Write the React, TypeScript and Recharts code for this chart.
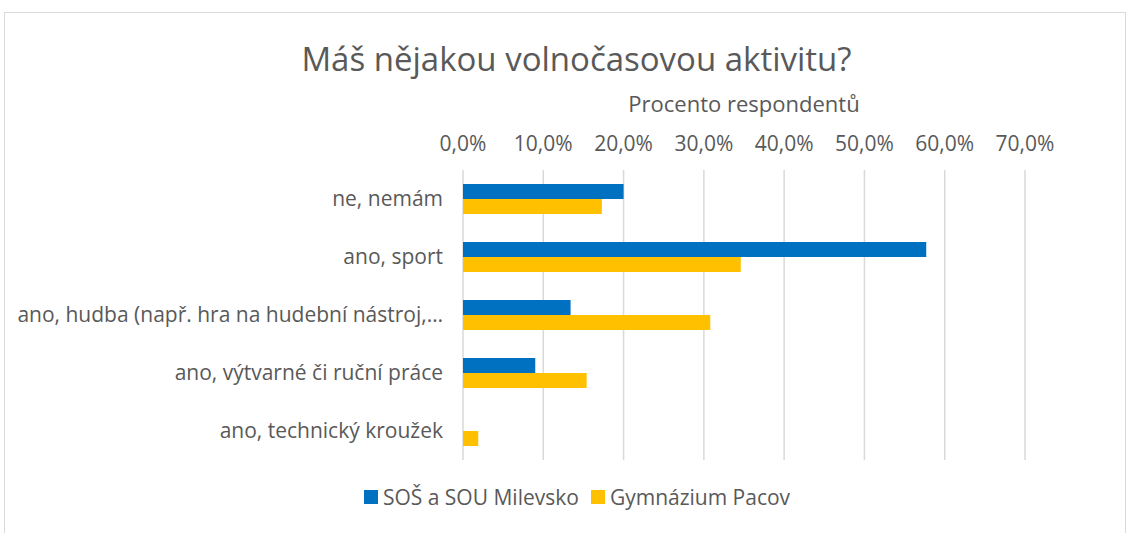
import { Bar, BarChart, CartesianGrid, XAxis, YAxis } from "recharts";

const categories = [
  "ne, nemám",
  "ano, sport",
  "ano, hudba (např. hra na hudební nástroj,…",
  "ano, výtvarné či ruční práce",
  "ano, technický kroužek",
];
const milevsko = [0.2, 0.577, 0.134, 0.09, 0];
const pacov = [0.173, 0.346, 0.308, 0.154, 0.019];
const xTicks = [0, 0.1, 0.2, 0.3, 0.4, 0.5, 0.6, 0.7];

const SERIES = [
  { key: "milevsko", name: "SOŠ a SOU Milevsko", color: "#0070C0" },
  { key: "pacov", name: "Gymnázium Pacov", color: "#FFC000" },
];

const FONT = "'Open Sans', sans-serif";
const TEXT = "#595959";

const data = categories.map((name, i) => ({
  name,
  milevsko: milevsko[i],
  pacov: pacov[i],
}));

const pct = (v: number) => `${(v * 100).toFixed(1).replace(".", ",")}%`;

export default function App() {
  return (
    <div style={{ position: "absolute", left: 0, top: 0, width: 1130, height: 533, background: "#fff", fontFamily: FONT }}>
      {/* chart frame */}
      <div
        style={{
          position: "absolute",
          left: 4,
          top: 12,
          width: 1122,
          height: 540,
          border: "1px solid #d9d9d9",
          boxSizing: "border-box",
        }}
      />
      <div
        style={{
          position: "absolute",
          top: 37,
          left: 0,
          width: 1153,
          textAlign: "center",
          fontSize: 33,
          color: TEXT,
          lineHeight: "44px",
        }}
      >
        Máš nějakou volnočasovou aktivitu?
      </div>
      <div
        style={{
          position: "absolute",
          top: 88,
          left: 463,
          width: 562,
          textAlign: "center",
          fontSize: 22,
          color: TEXT,
          lineHeight: "30px",
        }}
      >
        Procento respondentů
      </div>
      <div style={{ position: "absolute", left: 0, top: 0 }}>
        <BarChart
          width={1130}
          height={533}
          data={data}
          layout="vertical"
          margin={{ top: 130, right: 105, bottom: 73, left: 0 }}
          barGap={0}
        >
          <CartesianGrid horizontal={false} stroke="#d9d9d9" strokeWidth={1.5} />
          <XAxis
            type="number"
            orientation="top"
            domain={[0, 0.7]}
            ticks={xTicks}
            tickFormatter={pct}
            axisLine={false}
            tickLine={false}
            tickSize={0}
            tickMargin={19}
            height={40}
            tick={{ fill: TEXT, fontSize: 21, fontFamily: FONT }}
          />
          <YAxis
            type="category"
            dataKey="name"
            width={463}
            axisLine={false}
            tickLine={false}
            tickSize={0}
            tickMargin={20}
            interval={0}
            tick={{ fill: TEXT, fontSize: 21, fontFamily: FONT }}
          />
          {SERIES.map((s) => (
            <Bar key={s.key} dataKey={s.key} name={s.name} fill={s.color} barSize={15} isAnimationActive={false} />
          ))}
        </BarChart>
      </div>
      {/* legend */}
      <div
        style={{
          position: "absolute",
          top: 483,
          left: 0,
          width: 1154,
          display: "flex",
          justifyContent: "center",
          gap: 12,
          fontSize: 21,
          color: TEXT,
          lineHeight: "28px",
        }}
      >
        {SERIES.map((s) => (
          <div key={s.key} style={{ display: "flex", alignItems: "center", gap: 5 }}>
            <span style={{ display: "inline-block", width: 14, height: 14, background: s.color }} />
            <span>{s.name}</span>
          </div>
        ))}
      </div>
    </div>
  );
}
